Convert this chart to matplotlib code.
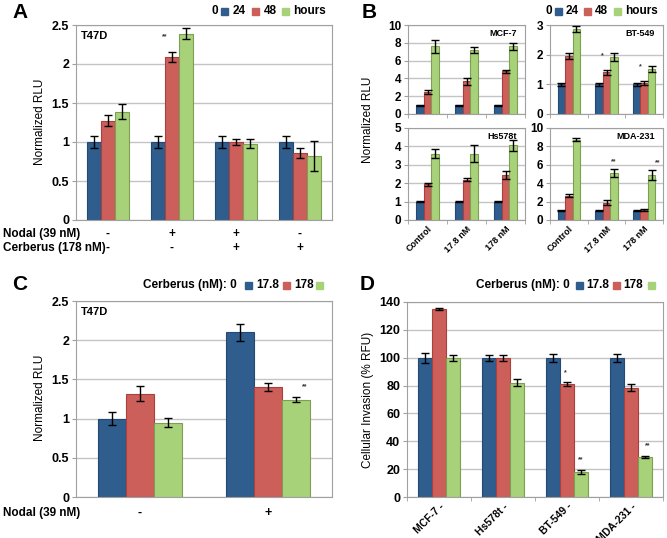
import numpy as np
import matplotlib.pyplot as plt
from matplotlib.patches import Rectangle

plt.rcParams['font.family'] = ['Liberation Sans', 'DejaVu Sans']

# ---- data ----
# Panel A: T47D, Nodal / Cerberus treatments, 0/24/48 hours
a_nodal = ['-', '+', '+', '-']
a_cerberus = ['-', '-', '+', '+']
a_0h = [1.0, 1.0, 1.0, 1.0]
a_24h = [1.27, 2.09, 1.0, 0.86]
a_48h = [1.39, 2.39, 0.98, 0.82]
a_0h_err = [0.08, 0.08, 0.08, 0.08]
a_24h_err = [0.07, 0.06, 0.04, 0.06]
a_48h_err = [0.10, 0.07, 0.06, 0.19]

# Panel B: four cell lines, Cerberus dose
b_doses = ['Control', '17.8 nM', '178 nM']
mcf7_0h = [1.0, 1.0, 1.0]
mcf7_24h = [2.5, 3.7, 4.8]
mcf7_48h = [7.6, 7.2, 7.6]
mcf7_err = ([0.05, 0.05, 0.05], [0.2, 0.4, 0.2], [0.7, 0.35, 0.4])
bt549_0h = [1.0, 1.0, 1.0]
bt549_24h = [1.97, 1.4, 1.05]
bt549_48h = [2.87, 1.93, 1.53]
bt549_err = ([0.04, 0.04, 0.04], [0.1, 0.07, 0.06], [0.11, 0.14, 0.1])
hs578t_0h = [1.0, 1.0, 1.0]
hs578t_24h = [1.93, 2.2, 2.47]
hs578t_48h = [3.6, 3.6, 4.05]
hs578t_err = ([0.03, 0.03, 0.03], [0.07, 0.08, 0.22], [0.25, 0.45, 0.28])
mda231_0h = [1.0, 1.0, 1.0]
mda231_24h = [2.65, 1.9, 1.1]
mda231_48h = [8.75, 5.1, 4.85]
mda231_err = ([0.05, 0.05, 0.05], [0.15, 0.25, 0.15], [0.2, 0.45, 0.55])

# Panel C: T47D, Nodal +/- with Cerberus
c_nodal = ['-', '+']
c_0 = [1.0, 2.1]
c_17 = [1.32, 1.4]
c_178 = [0.95, 1.24]
c_0_err = [0.08, 0.11]
c_17_err = [0.09, 0.05]
c_178_err = [0.06, 0.03]

# Panel D: invasion
d_lines = ['MCF-7 -', 'Hs578t -', 'BT-549 -', 'MDA-231 -']
d_0 = [100, 100, 100, 100]
d_17 = [135, 100, 81, 78.5]
d_178 = [100, 82, 18, 28.5]
d_0_err = [3.5, 2, 3, 3]
d_17_err = [1, 2, 1.5, 2.5]
d_178_err = [2, 2.5, 1.5, 0.7]

# ---- style ----
W, H = 667, 538
BLUE, RED, GREEN = '#2E5D8E', '#CD5F5B', '#A8D27A'
EDGES = ['#244A72', '#A8403D', '#7E9E52']
GRID = '#C4C4C4'
SPINE = '#A0A0A0'

fig = plt.figure(figsize=(W / 100, H / 100), dpi=100)


def px_axes(x0, y0, x1, y1):
    return fig.add_axes([x0 / W, 1 - y1 / H, (x1 - x0) / W, (y1 - y0) / H])


def ftext(x, y, s, **kw):
    fig.text(x / W, 1 - y / H, s, **kw)


def fsquare(x, y, color, size=7):
    fig.patches.append(Rectangle((x / W, 1 - (y + size / 2) / H), size / W, size / H,
                                 transform=fig.transFigure, color=color, figure=fig))


def bars(ax, series, errs, w=0.22, tick_fs=8):
    n = len(series[0])
    x = np.arange(n)
    cols = [BLUE, RED, GREEN]
    out = []
    for k, (vals, err) in enumerate(zip(series, errs)):
        xs = x + (k - 1) * w
        ax.bar(xs, vals, w, color=cols[k], edgecolor=EDGES[k], linewidth=0.8, zorder=2)
        ax.errorbar(xs, vals, yerr=err, fmt='none', ecolor='black', elinewidth=1,
                    capsize=3, capthick=1, zorder=3)
        out.append(xs)
    ax.set_xlim(-0.5, n - 0.5)
    ax.yaxis.grid(True, color=GRID, lw=1, zorder=0)
    ax.set_axisbelow(True)
    for s in ax.spines.values():
        s.set_color(SPINE)
    ax.tick_params(axis='y', length=3, color=SPINE, labelsize=tick_fs, pad=2)
    ax.tick_params(axis='x', length=0)
    ax.set_xticks([])
    return out


def yfmt(ax, ticks):
    ax.set_yticks(ticks)
    ax.set_yticklabels(['{:g}'.format(t) for t in ticks], fontweight='bold')


def stars(ax, x, y, s, dx=0, dy=6):
    ax.annotate(s, (x, y), xytext=(dx, dy), textcoords='offset points',
                ha='center', va='bottom', fontsize=5, fontweight='bold', color='#333333')


def boundary_ticks(ax, n):
    ax.set_xticks(np.arange(n + 1) - 0.5, minor=True)
    ax.tick_params(axis='x', which='minor', length=3, color=SPINE)


def legend_row(y, items):
    # items: (x, text) for labels, (x, color) squares marked with '#'
    for x, s in items:
        if s.startswith('#'):
            fsquare(x, y, s)
        else:
            ftext(x, y, s, fontsize=8.5, fontweight='bold', va='center')


# ---- Panel A ----
axA = px_axes(76, 25, 332, 220)
xa = bars(axA, [a_0h, a_24h, a_48h], [a_0h_err, a_24h_err, a_48h_err], tick_fs=9)
axA.set_ylim(0, 2.5)
yfmt(axA, [0, 0.5, 1, 1.5, 2, 2.5])
axA.text(0.02, 0.97, 'T47D', transform=axA.transAxes, fontsize=8, fontweight='bold', va='top')
stars(axA, xa[1][1], a_24h[1] + a_24h_err[1], '**', dx=-5, dy=9)
for i in range(4):
    axA.text(i, -0.072, a_nodal[i], transform=axA.get_xaxis_transform(), ha='center', va='center',
             fontsize=8.5, fontweight='bold')
    axA.text(i, -0.144, a_cerberus[i], transform=axA.get_xaxis_transform(), ha='center', va='center',
             fontsize=8.5, fontweight='bold')
ftext(3, 234, 'Nodal (39 nM)', fontsize=8.5, fontweight='bold', va='center')
ftext(3, 248, 'Cerberus (178 nM)', fontsize=8.5, fontweight='bold', va='center')
ftext(40, 122, 'Normalized RLU', fontsize=8.5, rotation=90, ha='center', va='center')
ftext(12, 12, 'A', fontsize=15, fontweight='bold', va='center')
legend_row(11, [(212, '0'), (221, BLUE), (233, '24'), (252, RED), (264, '48'),
                (282, GREEN), (293, 'hours')])

# ---- Panel B ----
panelsB = [
    ((408, 25, 525, 114), 'MCF-7', [mcf7_0h, mcf7_24h, mcf7_48h], mcf7_err, 10, [0, 2, 4, 6, 8, 10]),
    ((550, 25, 663, 114), 'BT-549', [bt549_0h, bt549_24h, bt549_48h], bt549_err, 3, [0, 1, 2, 3]),
    ((408, 128, 525, 220), 'Hs578t', [hs578t_0h, hs578t_24h, hs578t_48h], hs578t_err, 5, [0, 1, 2, 3, 4, 5]),
    ((550, 128, 663, 220), 'MDA-231', [mda231_0h, mda231_24h, mda231_48h], mda231_err, 10, [0, 2, 4, 6, 8, 10]),
]
axB = []
for box, name, series, errs, top, ticks in panelsB:
    ax = px_axes(*box)
    xs = bars(ax, series, errs, w=0.2, tick_fs=8.5)
    ax.set_ylim(0, top)
    yfmt(ax, ticks)
    boundary_ticks(ax, 3)
    ax.text(0.93, 0.91, name, transform=ax.transAxes, fontsize=6.5, fontweight='bold',
            ha='right', va='center')
    axB.append((ax, xs, series, errs))

# significance marks
ax, xs, series, errs = axB[1]
for g in (1, 2):
    stars(ax, xs[1][g], series[1][g] + errs[1][g], '*', dx=-3, dy=8)
ax, xs, series, errs = axB[3]
for g, dx in ((1, 0), (2, 4)):
    stars(ax, xs[2][g], series[2][g] + errs[2][g], '**', dx=dx, dy=3)

for ax, xs, series, errs in axB[2:]:
    ax.set_xticks(np.arange(3))
    ax.set_xticklabels(b_doses, rotation=45, ha='right', rotation_mode='anchor',
                       fontsize=6.5, fontweight='bold')
    ax.tick_params(axis='x', which='major', length=0, pad=3)
ftext(368, 120, 'Normalized RLU', fontsize=8.5, rotation=90, ha='center', va='center')
ftext(362, 12, 'B', fontsize=15, fontweight='bold', va='center')
legend_row(11, [(546, '0'), (555, BLUE), (566, '24'), (584, RED), (595, '48'),
                (614, GREEN), (625, 'hours')])

# ---- Panel C ----
axC = px_axes(76, 301, 332, 497)
xc = bars(axC, [c_0, c_17, c_178], [c_0_err, c_17_err, c_178_err], tick_fs=9)
axC.set_ylim(0, 2.5)
yfmt(axC, [0, 0.5, 1, 1.5, 2, 2.5])
axC.text(0.02, 0.97, 'T47D', transform=axC.transAxes, fontsize=8, fontweight='bold', va='top')
stars(axC, xc[2][1], c_178[1] + c_178_err[1], '**', dx=6, dy=5)
for i in range(2):
    axC.text(i, -0.082, c_nodal[i], transform=axC.get_xaxis_transform(), ha='center', va='center',
             fontsize=9, fontweight='bold')
ftext(3, 513, 'Nodal (39 nM)', fontsize=8.5, fontweight='bold', va='center')
ftext(40, 398, 'Normalized RLU', fontsize=8.5, rotation=90, ha='center', va='center')
ftext(12, 285, 'C', fontsize=15, fontweight='bold', va='center')
legend_row(285, [(143, 'Cerberus (nM): 0'), (245, BLUE), (256, '17.8'), (283, RED),
                 (294, '178'), (316, GREEN)])

# ---- Panel D ----
axD = px_axes(407, 302, 663, 497)
xd = bars(axD, [d_0, d_17, d_178], [d_0_err, d_17_err, d_178_err], tick_fs=9)
axD.set_ylim(0, 140)
yfmt(axD, [0, 20, 40, 60, 80, 100, 120, 140])
boundary_ticks(axD, 4)
axD.set_xticks(np.arange(4))
axD.set_xticklabels(d_lines, rotation=45, ha='right', rotation_mode='anchor',
                    fontsize=7.5, fontweight='bold')
axD.tick_params(axis='x', which='major', length=0, pad=3)
stars(axD, xd[1][2], d_17[2] + d_17_err[2], '*', dx=-1, dy=4)
stars(axD, xd[2][2], d_178[2] + d_178_err[2], '**', dx=0, dy=5)
stars(axD, xd[2][3], d_178[3] + d_178_err[3], '**', dx=2, dy=5)
ftext(368, 400, 'Cellular Invasion (% RFU)', fontsize=8.5, rotation=90, ha='center', va='center')
ftext(360, 285, 'D', fontsize=15, fontweight='bold', va='center')
legend_row(285, [(476, 'Cerberus (nM): 0'), (576, BLUE), (586, '17.8'), (613, RED),
                 (623, '178'), (648, GREEN)])

fig.savefig('out.png', dpi=100)
